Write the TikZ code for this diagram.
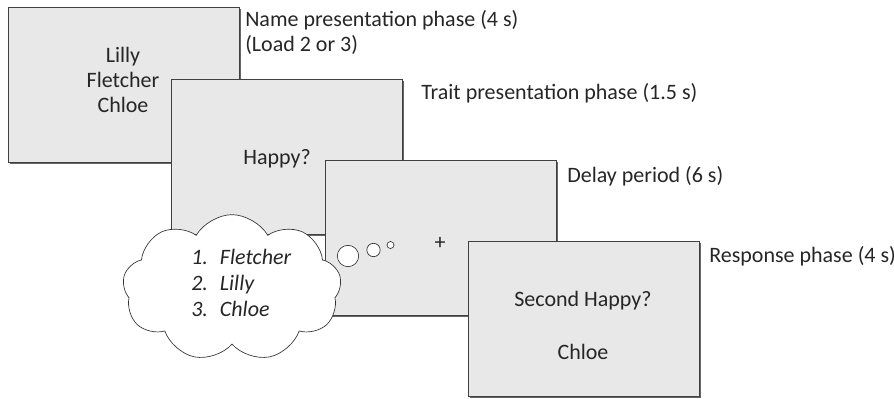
\documentclass[tikz,border=0pt]{standalone}
\usepackage{fontspec}
\setmainfont{Carlito}
\usetikzlibrary{shapes.symbols,shadows}

\tikzset{
  screen/.style={draw=black!75, fill=black!9, line width=0.5pt,
    minimum width=173.25pt, minimum height=116.25pt, inner sep=0pt,
    drop shadow={shadow xshift=1.4pt, shadow yshift=-1.4pt, fill=black!60, opacity=1}},
  phase/.style={anchor=base west, inner sep=0pt},
  bubble/.style={draw=black!80, fill=white, circle, inner sep=0pt, line width=0.5pt}
}

\begin{document}
\begin{tikzpicture}[x=0.75pt, y=-0.75pt, font=\fontsize{16.5}{19}\selectfont, text=black!85]
  \useasboundingbox (0,0) rectangle (894,399);
  % screens, back to front
  \node[screen] (names) at (123.5,84.5) {};
  \node[align=center] (namelist) at (123,80) {Lilly\\Fletcher\\Chloe};
  \node[screen] (trait) at (287,156.5) {};
  \node[anchor=base] (traitword) at (277,165) {Happy?};
  \node[screen] (delay) at (441,237.5) {};
  \node (fixation) at (440,243) {+};

  % thought cloud
  \node[cloud, cloud puffs=9, cloud puff arc=120, aspect=1.5, draw=black!80,
    fill=white, line width=0.5pt, minimum width=164pt, minimum height=110pt]
    (thought) at (232,288) {};
  \node[anchor=base west, inner sep=0pt, font=\fontsize{16.5}{19.5}\selectfont\itshape]
    (recall) at (191,265)
    {\begin{tabular}[t]{@{}l@{\hspace{9pt}}l@{}}
      1. & Fletcher\\
      2. & Lilly\\
      3. & Chloe
    \end{tabular}};
  \node[bubble, minimum size=16pt] (bubblea) at (348,256) {};
  \node[bubble, minimum size=10pt] (bubbleb) at (373.5,250) {};
  \node[bubble, minimum size=5.25pt] (bubblec) at (390.5,245) {};

  \node[screen] (response) at (583.5,319) {};
  \node[anchor=base] (probe) at (583,307) {Second Happy?};
  \node[anchor=base] (answer) at (583,360) {Chloe};

  % phase labels
  \node[phase] (namephase) at (245,27) {Name presentation phase (4 s)};
  \node[phase] (loadnote) at (245,52) {(Load 2 or 3)};
  \node[phase] (traitphase) at (421,100) {Trait presentation phase (1.5 s)};
  \node[phase] (delayphase) at (567,183) {Delay period (6 s)};
  \node[phase] (responsephase) at (709,263) {Response phase (4 s)};
\end{tikzpicture}
\end{document}
